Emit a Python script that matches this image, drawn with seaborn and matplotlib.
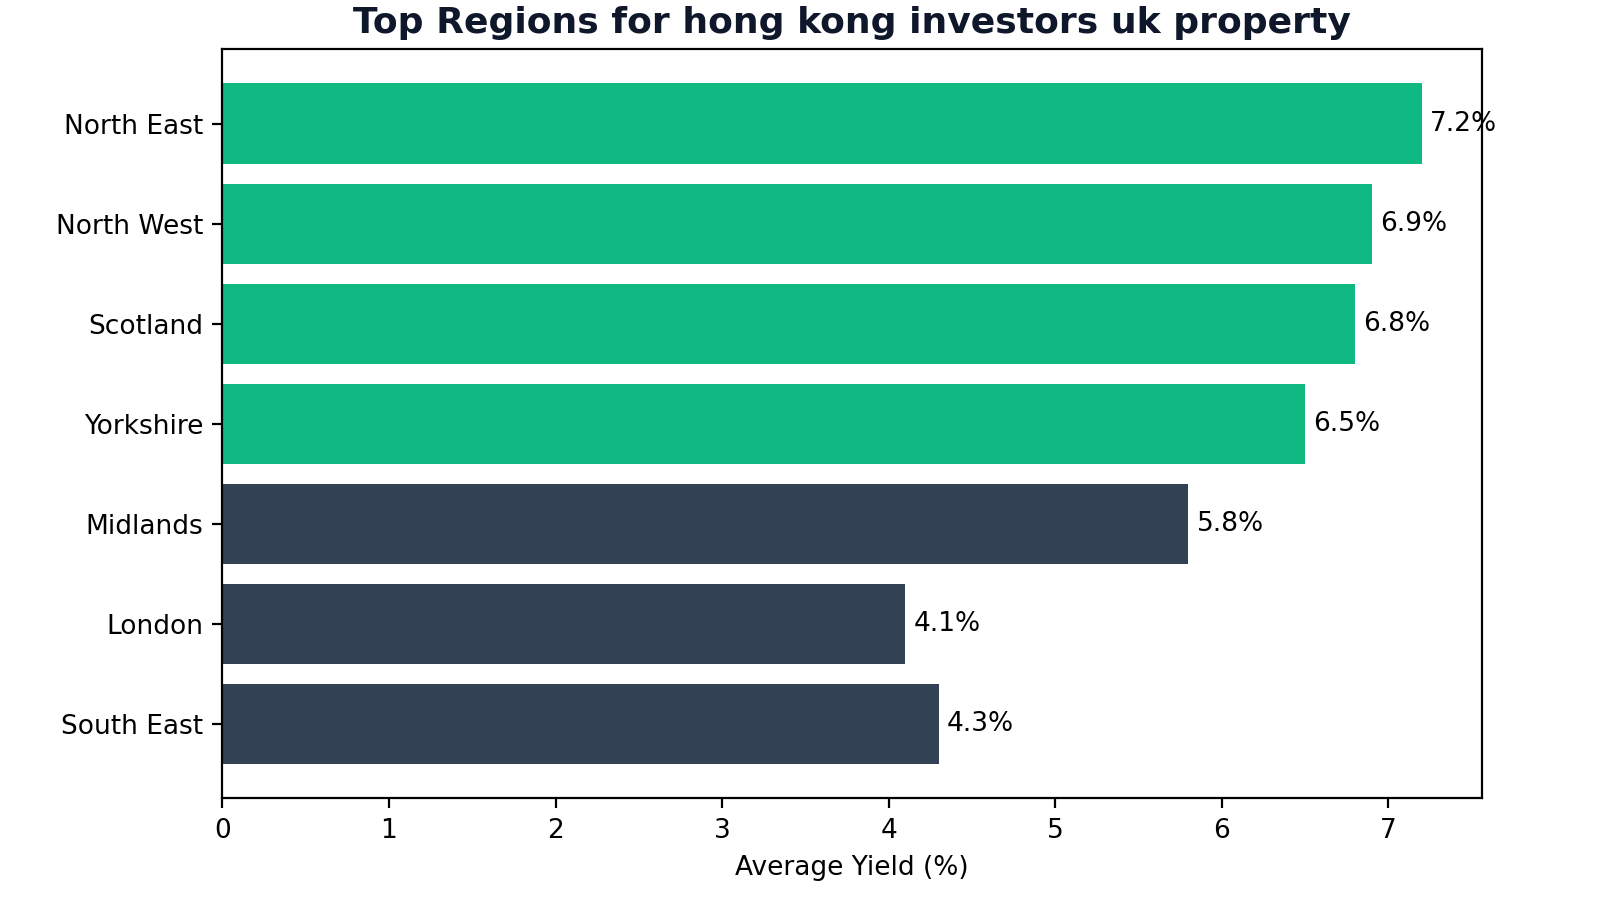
import matplotlib
matplotlib.use("Agg")
import matplotlib.pyplot as plt
import seaborn as sns
import pandas as pd

regions = ["North East", "North West", "Scotland", "Yorkshire", "Midlands", "London", "South East"]
yields = [7.2, 6.9, 6.8, 6.5, 5.8, 4.1, 4.3]
bar_colors = ["#10b981"] * 4 + ["#334155"] * 3

df = pd.DataFrame({"region": regions, "yield": yields})

fig, ax = plt.subplots(figsize=(8, 4.495), dpi=200)
sns.barplot(data=df, x="yield", y="region", hue="region", palette=bar_colors,
            legend=False, width=0.8, saturation=1, ax=ax)

for i, v in enumerate(yields):
    ax.text(v + 0.05, i, f"{v}%", va="center", ha="left", fontsize=9.5)

ax.set_xlim(0, max(yields) * 1.05)
ax.set_ylim(len(regions) - 1 + 0.74, -0.74)
ax.set_xlabel("Average Yield (%)", fontsize=9.5)
ax.set_ylabel("")
ax.tick_params(labelsize=9.5)
ax.set_title("Top Regions for hong kong investors uk property",
             fontsize=13, fontweight="bold", color="#0f172a")

fig.subplots_adjust(left=0.139, right=0.926, top=0.945, bottom=0.112)
fig.savefig("out.png", dpi=200)
